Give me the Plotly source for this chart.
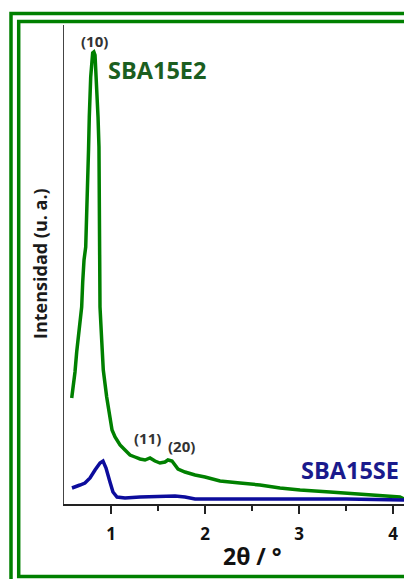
import plotly.graph_objects as go

# Small-angle XRD patterns (2θ in degrees, intensity in arbitrary units)
two_theta_e2 = [0.582, 0.599, 0.617, 0.635, 0.652, 0.670, 0.688, 0.699, 0.713, 0.731,
                0.741, 0.752, 0.761, 0.769, 0.784, 0.805, 0.818, 0.830, 0.848, 0.862,
                0.872, 0.876, 0.883, 0.901, 0.918, 0.954, 0.989, 1.011, 1.043, 1.096,
                1.149, 1.202, 1.255, 1.309, 1.362, 1.415, 1.468, 1.521, 1.574, 1.606,
                1.649, 1.681, 1.713, 1.787, 1.894, 2.000, 2.160, 2.372, 2.585, 2.798,
                3.011, 3.330, 3.649, 3.862, 4.074, 4.117]
intensity_e2 = [106, 116, 132, 152, 167, 179, 197, 222, 244, 257,
                284, 322, 354, 387, 427, 451, 452, 449, 417, 387,
                357, 277, 197, 164, 134, 107, 87, 74, 67, 59,
                54, 49, 47, 45, 44, 46, 43, 41, 42, 44,
                43, 39, 35, 32, 29, 27, 23, 21, 19, 16,
                14, 12, 10, 8, 7, 5]

two_theta_se = [0.585, 0.630, 0.670, 0.723, 0.777, 0.830, 0.883, 0.915, 0.947, 0.989,
                1.021, 1.064, 1.149, 1.309, 1.521, 1.681, 1.787, 1.894, 2.053, 2.500,
                3.000, 3.500, 4.117]
intensity_se = [16, 18, 19, 21, 26, 34, 41, 43, 36, 22,
                12, 7, 6, 7, 8, 8, 7, 5, 5, 5,
                5, 5, 4]

x_ticks = [1, 2, 3, 4]
x_minor_ticks = [1.5, 2.5, 3.5]

series_names = ["SBA15E2", "SBA15SE"]
peak_labels = ["(10)", "(11)", "(20)"]
peak_positions = [0.82, 1.39, 1.75]
peak_label_heights = [463, 66, 58]

GREEN = "#008000"
BLUE = "#0c0c9c"
FONT = "Open Sans"

W, H = 404, 579
L, R, T, B = 64, 0, 25, 75
PW, PH = W - L - R, H - T - B


def px_x(px):
    return (px - L) / PW


def px_y(py):
    return (H - B - py) / PH


fig = go.Figure()
fig.add_trace(go.Scatter(x=two_theta_e2, y=intensity_e2, mode="lines",
                         name=series_names[0],
                         line=dict(color=GREEN, width=3.5)))
fig.add_trace(go.Scatter(x=two_theta_se, y=intensity_se, mode="lines",
                         name=series_names[1],
                         line=dict(color=BLUE, width=3.5)))

annotations = []
# Series labels
annotations.append(dict(x=px_x(157), y=px_y(70), xref="paper", yref="paper",
                        text="<b>%s</b>" % series_names[0], showarrow=False,
                        font=dict(family=FONT, size=23.5, color="#1b5e20"),
                        xanchor="center", yanchor="middle"))
annotations.append(dict(x=px_x(350), y=px_y(470), xref="paper", yref="paper",
                        text="<b>%s</b>" % series_names[1], showarrow=False,
                        font=dict(family=FONT, size=23.5, color="#1a1a8c"),
                        xanchor="center", yanchor="middle"))
# Reflection indices
for lab, xp, yp in zip(peak_labels, peak_positions, peak_label_heights):
    annotations.append(dict(x=xp, y=yp, xref="x", yref="y",
                            text="<b>%s</b>" % lab, showarrow=False,
                            font=dict(family=FONT, size=15, color="#333333"),
                            xanchor="center", yanchor="middle"))
# Axis titles
annotations.append(dict(x=px_x(252), y=px_y(556), xref="paper", yref="paper",
                        text="<b>2θ / °</b>", showarrow=False,
                        font=dict(family=FONT, size=23, color="#111111"),
                        xanchor="center", yanchor="middle"))
annotations.append(dict(x=px_x(40), y=px_y(264), xref="paper", yref="paper",
                        text="<b>Intensidad (u. a.)</b>", showarrow=False,
                        textangle=-90,
                        font=dict(family=FONT, size=18, color="#1a1a1a"),
                        xanchor="center", yanchor="middle"))

# Double green frame around the chart
shapes = [
    dict(type="rect", xref="paper", yref="paper",
         x0=px_x(11), y0=px_y(590), x1=px_x(420), y1=px_y(13.5),
         line=dict(color=GREEN, width=3.5), fillcolor="rgba(0,0,0,0)", layer="below"),
    dict(type="rect", xref="paper", yref="paper",
         x0=px_x(18.7), y0=px_y(576.5), x1=px_x(412), y1=px_y(21.5),
         line=dict(color=GREEN, width=3.5), fillcolor="rgba(0,0,0,0)", layer="below"),
]

fig.update_layout(
    width=W, height=H,
    margin=dict(l=L, r=R, t=T, b=B, pad=0),
    paper_bgcolor="white", plot_bgcolor="white",
    showlegend=False,
    annotations=annotations,
    shapes=shapes,
    xaxis=dict(range=[0.5, 4.117], tickvals=x_ticks, ticktext=[str(v) for v in x_ticks],
               showgrid=False, zeroline=False,
               showline=True, linecolor="#222222", linewidth=1.5,
               ticks="outside", ticklen=8, tickwidth=1.5, tickcolor="#222222",
               ticklabelstandoff=6,
               minor=dict(tickvals=x_minor_ticks, ticks="outside", ticklen=5,
                          tickwidth=1.5, tickcolor="#222222"),
               tickfont=dict(family=FONT, size=17, color="#111111", weight="bold")),
    yaxis=dict(range=[0, 479], showticklabels=False, ticks="",
               showgrid=False, zeroline=False,
               showline=True, linecolor="#444444", linewidth=1.2),
)

fig.write_html("out.html")
